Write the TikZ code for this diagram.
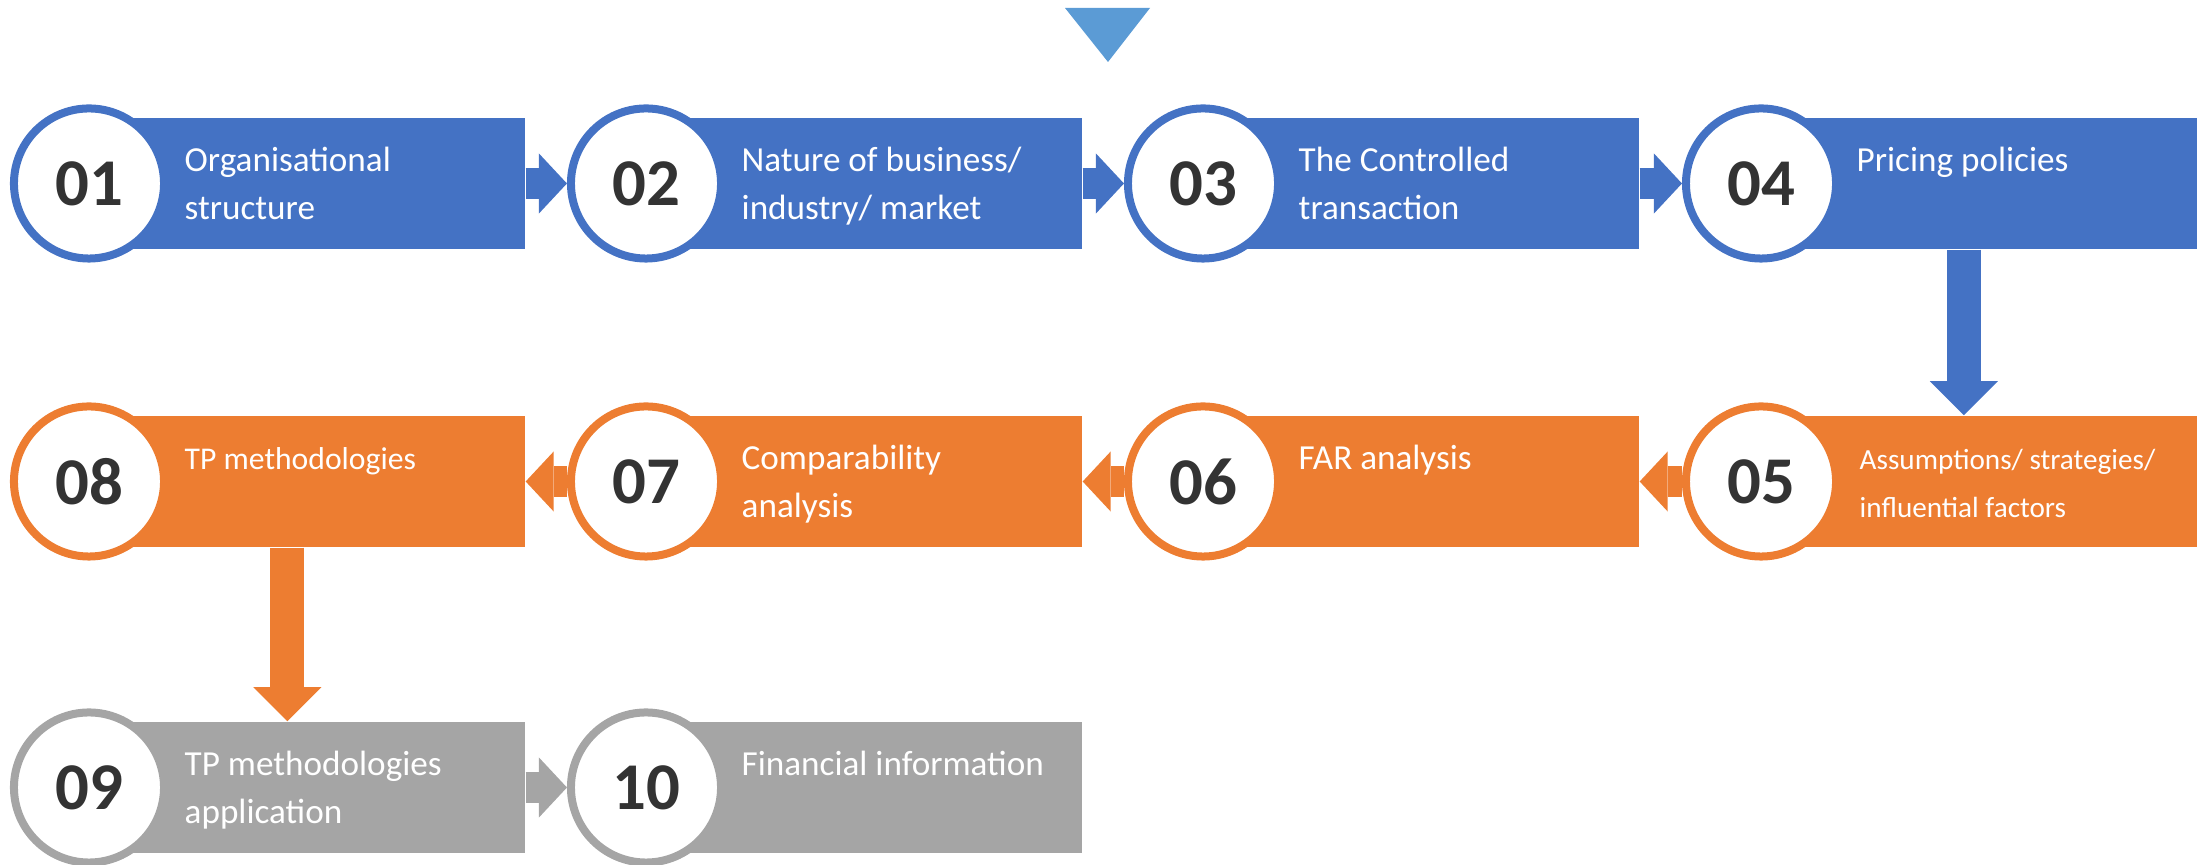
\documentclass[tikz,border=0pt]{standalone}
\usepackage{fontspec}
\setmainfont{Carlito}
\usepackage{xcolor}
\usetikzlibrary{arrows.meta}
\definecolor{stepblue}{HTML}{4472C4}
\definecolor{steporange}{HTML}{ED7D31}
\definecolor{stepgray}{HTML}{A5A5A5}
\definecolor{markblue}{HTML}{5B9BD5}
\definecolor{numgray}{HTML}{333333}
\tikzset{
    step-box/.style = {fill=#1, rectangle, inner sep=0pt, minimum width=4.35cm, minimum height=1.31cm, anchor=west},
    step-circle/.style = {draw=#1, fill=white, circle, line width=0.08cm, minimum size=1.5cm, inner sep=0pt, text=numgray, font=\fontsize{19}{22}\selectfont\bfseries},
    step-text/.style = {text=white, anchor=north west, inner sep=0pt, align=left, font=\fontsize{10}{13.66}\selectfont},
    flow-arrow/.style = {draw=#1, line width=0.31cm, -{Triangle[length=0.28cm, width=0.6cm, line width=0pt]}},
    drop-arrow/.style = {draw=#1, line width=0.34cm, -{Triangle[length=0.34cm, width=0.68cm, line width=0pt]}},
}

\begin{document}
\begin{tikzpicture}[x=0.01cm, y=-0.01cm]
\useasboundingbox (0,0) rectangle (2197,865);
\fill[markblue] (1065,8) -- (1150,8) -- (1108,62) -- cycle;

% bars
\node[step-box=stepblue] (b01) at (89,183.5) {};
\node[step-box=stepblue] (b02) at (646,183.5) {};
\node[step-box=stepblue] (b03) at (1203,183.5) {};
\node[step-box=stepblue, minimum width=4.36cm] (b04) at (1761,183.5) {};
\node[step-box=steporange, minimum width=4.36cm] (b05) at (1761,481.5) {};
\node[step-box=steporange] (b06) at (1203,481.5) {};
\node[step-box=steporange] (b07) at (646,481.5) {};
\node[step-box=steporange] (b08) at (89,481.5) {};
\node[step-box=stepgray] (b09) at (89,787.5) {};
\node[step-box=stepgray] (b10) at (646,787.5) {};

% number circles
\node[step-circle=stepblue] (c01) at (89,183.5) {01};
\node[step-circle=stepblue] (c02) at (646,183.5) {02};
\node[step-circle=stepblue] (c03) at (1203,183.5) {03};
\node[step-circle=stepblue] (c04) at (1761,183.5) {04};
\node[step-circle=steporange] (c05) at (1761,481.5) {05};
\node[step-circle=steporange] (c06) at (1203,481.5) {06};
\node[step-circle=steporange] (c07) at (646,481.5) {07};
\node[step-circle=steporange] (c08) at (89,481.5) {08};
\node[step-circle=stepgray] (c09) at (89,787.5) {09};
\node[step-circle=stepgray] (c10) at (646,787.5) {10};

% arrows
\draw[flow-arrow=stepblue] (b01.east) -- (c02.west);
\draw[flow-arrow=stepblue] (b02.east) -- (c03.west);
\draw[flow-arrow=stepblue] (b03.east) -- (c04.west);
\draw[drop-arrow=stepblue] ([xshift=-0.16cm]b04.south) -- ([xshift=-0.16cm]b05.north);
\draw[flow-arrow=steporange] (c05.west) -- (b06.east);
\draw[flow-arrow=steporange] (c06.west) -- (b07.east);
\draw[flow-arrow=steporange] (c07.west) -- (b08.east);
\draw[drop-arrow=steporange] ([xshift=-0.2cm]b08.south) -- ([xshift=-0.2cm]b09.north);
\draw[flow-arrow=stepgray] (b09.east) -- (c10.west);

% labels
\node[step-text] (t01) at (184,137) {\strut Organisational\\structure};
\node[step-text] (t02) at (741,137) {\strut Nature of business/\\industry/ market};
\node[step-text] (t03) at (1298,137) {\strut The Controlled\\transaction};
\node[step-text] (t04) at (1856,137) {\strut Pricing policies};
\node[step-text, font=\fontsize{8.3}{13.66}\selectfont] (t05) at (1859,435) {\strut Assumptions/ strategies/\\influential factors};
\node[step-text] (t06) at (1298,435) {\strut FAR analysis};
\node[step-text] (t07) at (741,435) {\strut Comparability\\analysis};
\node[step-text, font=\fontsize{9}{13.66}\selectfont] (t08) at (184,435) {\strut TP methodologies};
\node[step-text] (t09) at (184,741) {\strut TP methodologies\\application};
\node[step-text] (t10) at (741,741) {\strut Financial information};
\end{tikzpicture}
\end{document}
